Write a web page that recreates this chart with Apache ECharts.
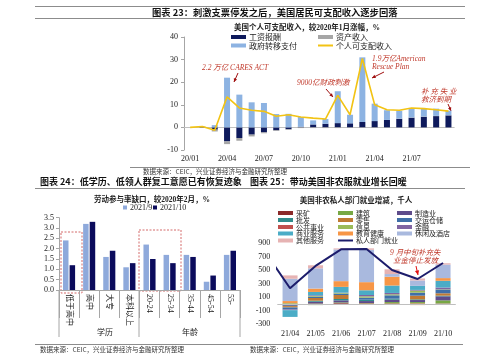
<!DOCTYPE html>
<html><head><meta charset="utf-8">
<script src="https://cdn.jsdelivr.net/npm/echarts@6/dist/echarts.min.js"></script>
<style>html,body{margin:0;padding:0;background:#fff}#c{width:500px;height:362px}</style>
</head><body><div id="c"></div><script>
// ---------- 图表23 数据 ----------
const months1 = ['20/01','20/02','20/03','20/04','20/05','20/06','20/07','20/08','20/09','20/10','20/11','20/12','21/01','21/02','21/03','21/04','21/05','21/06','21/07','21/08','21/09','21/10'];
const wage1 = [0, 0.2, -1.0, -6.2, -4.7, -3.2, -2.2, -1.3, -0.8, 0.3, 1.3, 1.6, 1.9, 1.8, 2.4, 2.8, 3.3, 3.8, 4.3, 4.7, 5.0, 5.3];
const asset1 = [0, 0.1, -0.8, -1.2, -1.2, -0.8, -0.4, -0.3, -0.3, -0.3, -0.3, -0.3, -0.3, -0.2, -0.2, -0.2, -0.1, 0.1, 0.1, 0.1, 0.1, 0.1];
const transfer1 = [0, 0.1, 1.0, 22.0, 14.5, 11.1, 10.8, 5.9, 6.0, 4.3, 1.8, 2.1, 14.1, 3.8, 28.6, 7.7, 4.3, 3.5, 4.2, 3.8, 3.2, 2.0];
const dpi1 = [0, 0.4, -1.3, 13.5, 8.6, 7.6, 7.1, 4.9, 5.6, 4.6, 4.1, 3.7, 14.2, 5.6, 30.5, 10.0, 7.8, 7.6, 8.6, 8.3, 7.8, 7.2];
const xLabels1 = ['20/01','20/04','20/07','20/10','21/01','21/04','21/07'];
const yTicks1 = [-10, 40, 10];

// ---------- 图表24 数据 ----------
const cats2 = ['低于高中','高中','大专','本科以上','20-24','25-34','35-44','45-54','55-'];
const sep2021 = [2.4, 3.2, 1.6, 1.1, 2.2, 1.7, 1.7, 0.4, 1.7];
const oct2021 = [1.2, 3.3, 1.9, 1.3, 1.5, 1.3, 1.6, 0.7, 1.9];
const groups2 = ['学历','年龄'];

// ---------- 图表25 数据 ----------
const months3 = ['21/04','21/05','21/06','21/07','21/08','21/09','21/10'];
const mining3 = [-5, 5, 10, 5, 5, 5, 5];
const construction3 = [-5, -20, 10, 5, 20, 20, 45];
const manufacturing3 = [-20, 25, 30, 30, 35, 30, 60];
const wholesale3 = [-5, 15, 20, 20, 15, 10, 10];
const retail3 = [-20, 40, 60, -10, -15, 55, 35];
const transport3 = [-30, 20, 20, 30, 50, 45, 55];
const utilities3 = [0, 0, 0, 0, 0, 0, 0];
const information3 = [10, 10, 10, 20, 15, 30, 5];
const finance3 = [-10, 10, 5, 20, 20, 10, 25];
const business3 = [-100, 50, 85, 70, 110, 60, 100];
const eduhealth3 = [30, 50, 85, 120, 130, -20, 40];
const leisure3 = [330, 300, 470, 480, 40, 80, 200];
const other3 = [50, 45, 15, 20, 70, 30, 20];
const privateIdx3 = [3, 4, 5, 6, 7, 8, 9, 10]; // 21/03 .. 21/10 (month index)
const private3 = [780, 229, 560, 806, 810, 500, 367, 604];

const sectors3 = [
  ['采矿', mining3, '#8B2A2A'], ['建筑', construction3, '#77A844'], ['制造业', manufacturing3, '#5E4B8B'],
  ['批发', wholesale3, '#2F8C8C'], ['零售', retail3, '#C07A33'], ['交运仓储', transport3, '#3F6FA8'],
  ['公共事业', utilities3, '#C0504D'], ['信息', information3, '#9BBB59'], ['金融', finance3, '#8064A2'],
  ['商业服务', business3, '#4BACC6'], ['教育健康', eduhealth3, '#F79646'], ['休闲及酒店', leisure3, '#A9B9DE'],
  ['其他服务', other3, '#E6B3B3']
];

const SERIF = "'Liberation Serif','Noto Sans CJK SC'";
const CJK = "'Noto Sans CJK SC'";
const TXT = '#222';

const chart = echarts.init(document.getElementById('c'), null, {renderer:'canvas'});

function leg(name, left, top, w, h, fs, icon) {
  return {data:[{name:name, icon: icon||'rect'}], left:left, top:top, padding:0, itemWidth:w, itemHeight:h,
    selectedMode:false, textStyle:{fontSize:fs, fontFamily:CJK, color:TXT, padding:[0,0,0,-2]}};
}
const legends = [
  leg('工资报酬', 231, 33, 15, 4, 8), leg('资产收入', 318, 33, 15, 4, 8),
  leg('政府转移支付', 231, 41.5, 15, 4, 8), leg('个人可支配收入', 318, 41.5, 15, 2, 8),
  leg('2021/9', 123, 203.5, 4, 4, 8), leg('2021/10', 153, 203.5, 4, 4, 8)
];
const colX3 = [278, 338, 397], rowY3 = [209.5, 216.5, 223.5, 230, 237];
sectors3.forEach((s, i) => legends.push(leg(s[0], colX3[i % 3], rowY3[Math.floor(i / 3)], 15, 4, 7)));
legends.push(leg('私人部门就业', colX3[1], rowY3[4], 15, 2, 7));
legends.forEach(l => { if (l.data[0].name.indexOf('2021') === 0) l.textStyle.fontFamily = SERIF; });

const series = [
  {name:'工资报酬', type:'bar', stack:'a', xAxisIndex:0, yAxisIndex:0, data:wage1, barWidth:6, itemStyle:{color:'#0E1A5C'}},
  {name:'资产收入', type:'bar', stack:'a', xAxisIndex:0, yAxisIndex:0, data:asset1, barWidth:6, itemStyle:{color:'#A6A6A6'}},
  {name:'政府转移支付', type:'bar', stack:'a', xAxisIndex:0, yAxisIndex:0, data:transfer1, barWidth:6, itemStyle:{color:'#8DB3E2'}},
  {name:'个人可支配收入', type:'line', xAxisIndex:0, yAxisIndex:0, data:dpi1, symbol:'none', z:5,
    lineStyle:{color:'#F2C314', width:1.6}, itemStyle:{color:'#F2C314'},
    markLine:{silent:true, symbol:'none', label:{show:false}, lineStyle:{color:'#BFBFBF', width:1, type:'solid'}, data:[{yAxis:0}], z:1}},
  {name:'2021/9', type:'bar', xAxisIndex:1, yAxisIndex:1, data:sep2021, barWidth:5.5, barGap:'20%', itemStyle:{color:'#8EA9DB'}},
  {name:'2021/10', type:'bar', xAxisIndex:1, yAxisIndex:1, data:oct2021, barWidth:5.5, barGap:'20%', itemStyle:{color:'#0B0B5C'}}
];
sectors3.forEach((s, i) => {
  const o = {name:s[0], type:'bar', stack:'b', xAxisIndex:2, yAxisIndex:2, data:s[1], barWidth:15, itemStyle:{color:s[2]}};
  if (i === 0) o.markLine = {silent:true, symbol:'none', label:{show:false}, lineStyle:{color:'#BFBFBF', width:1, type:'solid'}, data:[{yAxis:0}]};
  series.push(o);
});
series.push({name:'私人部门就业', type:'line', xAxisIndex:3, yAxisIndex:2, clip:true, symbol:'none', z:10,
  data: privateIdx3.map((m, i) => [m, private3[i]]), lineStyle:{color:'#1C1C6B', width:2}, itemStyle:{color:'#1C1C6B'}});

function arrow(x1, y1, x2, y2, color, head) {
  const a = Math.atan2(y2 - y1, x2 - x1), h = head || 4;
  const p1 = [x2 - h * Math.cos(a - 0.45), y2 - h * Math.sin(a - 0.45)];
  const p2 = [x2 - h * Math.cos(a + 0.45), y2 - h * Math.sin(a + 0.45)];
  return [
    {type:'line', shape:{x1:x1, y1:y1, x2:x2, y2:y2}, style:{stroke:color, lineWidth:1}},
    {type:'polygon', shape:{points:[[x2, y2], p1, p2]}, style:{fill:color}}
  ];
}
function txt(t, x, y, o) {
  return {type:'text', style:Object.assign({text:t, x:x, y:y, fill:TXT, font:'8px ' + CJK, align:'left', verticalAlign:'middle'}, o || {})};
}
function hline(x1, x2, y, c, w) { return {type:'line', shape:{x1:x1, y1:y, x2:x2, y2:y}, style:{stroke:c || '#7F7F7F', lineWidth:w || 1}}; }
function vline(x, y1, y2, c) { return {type:'line', shape:{x1:x, y1:y1, x2:x, y2:y2}, style:{stroke:c || '#A6A6A6', lineWidth:1}}; }

const RED = '#C0392B';
const ann = 'italic 7.5px ' + SERIF;
const graphics = [
  hline(35, 465, 6.5, '#8C8C8C'), hline(35, 465, 18.5, '#8C8C8C'),
  txt('图表 23：刺激支票停发之后，美国居民可支配收入逐步回落', 152, 12.5, {font:'bold 9.3px ' + CJK, fill:'#111'}),
  txt('美国个人可支配收入，较2020年1月涨幅，%', 307, 28, {font:'bold 7.5px ' + SERIF, align:'center'}),
  txt('2.2 万亿 CARES ACT', 202, 68, {font:ann, fill:RED}),
  ...arrow(238, 73, 234, 82, '#A01010', 4),
  txt('9000亿财政刺激', 297, 83, {font:ann, fill:RED}),
  ...arrow(326, 89, 333, 97, '#A01010', 4),
  txt('1.9万亿American', 372, 59, {font:ann, fill:RED}),
  txt('Rescue Plan', 372, 67, {font:ann, fill:RED}),
  ...arrow(384, 72, 372, 78, '#A01010', 4),
  txt('补 充 失 业', 421, 92, {font:ann, fill:RED}),
  txt('救济到期', 421, 100, {font:ann, fill:RED}),
  ...arrow(448, 104, 451, 111, '#A01010', 4),
  hline(130, 470, 167.5, '#8C8C8C'),
  txt('数据来源：CEIC，兴业证券经济与金融研究所整理', 143, 171.5, {font:'6.5px ' + CJK, fill:'#333'}),

  txt('图表 24：低学历、低领人群复工意愿已有恢复迹象', 40, 182, {font:'bold 9px ' + CJK, fill:'#111'}),
  txt('图表 25：带动美国非农服就业增长回暖', 250, 182, {font:'bold 9px ' + CJK, fill:'#111'}),
  hline(35, 465, 188.5, '#8C8C8C'),
  txt('劳动参与率缺口，较2020年2月，%', 152, 200, {font:'bold 7.5px ' + SERIF, align:'center'}),
  txt('美国非农私人部门就业增减，千人', 356, 201.5, {font:'bold 7.5px ' + SERIF, align:'center'}),
  {type:'rect', shape:{x:61, y:232, width:21, height:61}, style:{fill:'none', stroke:'#D46A6A', lineWidth:1, lineDash:[2, 1.5]}},
  {type:'rect', shape:{x:139, y:230, width:42, height:61}, style:{fill:'none', stroke:'#D46A6A', lineWidth:1, lineDash:[2, 1.5]}},
  vline(59, 290, 337), vline(139, 290, 337), vline(240, 290, 337),
  txt(groups2[0], 105, 332, {font:'8px ' + CJK, align:'center'}),
  txt(groups2[1], 190, 332, {font:'8px ' + CJK, align:'center'}),
  hline(35, 250, 344.5, '#8C8C8C'), hline(250, 463, 344.5, '#8C8C8C'),
  txt('数据来源：CEIC，兴业证券经济与金融研究所整理', 40, 350, {font:'6.5px ' + CJK, fill:'#333'}),
  txt('数据来源：CEIC，兴业证券经济与金融研究所整理', 250, 350, {font:'6.5px ' + CJK, fill:'#333'}),
  txt('9 月中旬补充失', 390, 253, {font:ann, fill:RED}),
  txt('业金停止发放', 393, 261, {font:ann, fill:RED}),
  ...arrow(416, 266, 418, 275, '#E01010', 5)
];

chart.setOption({
  animation:false,
  backgroundColor:'#fff',
  textStyle:{fontFamily:SERIF},
  grid:[
    {left:184, top:37, width:270.6, height:113},
    {left:59, top:217.7, width:181, height:72.3},
    {left:277.3, top:243, width:178.5, height:81}
  ],
  legend: legends,
  xAxis:[
    {type:'category', gridIndex:0, data:months1, axisLine:{show:false, onZero:false}, axisTick:{show:false},
      axisLabel:{interval:(i, v) => xLabels1.indexOf(v) >= 0, fontSize:8, color:TXT, margin:5, fontFamily:SERIF}},
    {type:'category', gridIndex:1, data:cats2, axisLine:{show:true, lineStyle:{color:'#A6A6A6'}},
      axisTick:{show:true, length:28, lineStyle:{color:'#A6A6A6'}},
      axisLabel:{interval:0, rotate:-90, fontSize:8, color:TXT, margin:4, fontFamily:SERIF}},
    {type:'category', gridIndex:2, data:months3, axisLine:{show:false, onZero:false}, axisTick:{show:false},
      axisLabel:{fontSize:8, color:TXT, margin:6, fontFamily:SERIF}},
    {type:'value', gridIndex:2, min:3.5, max:10.5, show:false}
  ],
  yAxis:[
    {type:'value', gridIndex:0, min:yTicks1[0], max:yTicks1[1], interval:yTicks1[2], splitLine:{show:false},
      axisLine:{show:true, lineStyle:{color:'#A6A6A6'}}, axisTick:{show:true, length:3, lineStyle:{color:'#A6A6A6'}},
      axisLabel:{fontSize:8, color:TXT, margin:6, fontFamily:SERIF}},
    {type:'value', gridIndex:1, min:0, max:3.5, interval:0.5, splitLine:{show:false},
      axisLine:{show:true, lineStyle:{color:'#A6A6A6'}}, axisTick:{show:true, length:3, lineStyle:{color:'#A6A6A6'}},
      axisLabel:{fontSize:8, color:TXT, margin:5, fontFamily:SERIF, formatter:v => v.toFixed(1)}},
    {type:'value', gridIndex:2, min:-300, max:900, interval:200, splitLine:{show:false},
      axisLine:{show:false}, axisTick:{show:false},
      axisLabel:{fontSize:8, color:TXT, margin:7, fontFamily:SERIF}}
  ],
  series: series,
  graphic: graphics
});
</script></body></html>
